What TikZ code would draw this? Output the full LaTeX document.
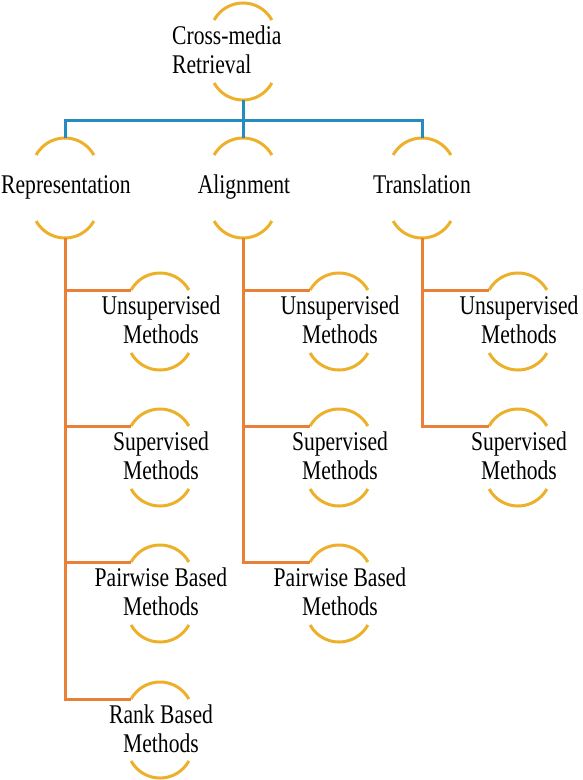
\documentclass[tikz,border=0pt]{standalone}
\usepackage{fontspec}
\setmainfont{Liberation Serif}
\definecolor{arcgold}{RGB}{236,176,42}
\definecolor{lineorange}{RGB}{232,128,55}
\definecolor{lineblue}{RGB}{38,140,192}
\newcommand\arcpair[4]{%
  \path (#2,-#3) ++(0,-33) ++(151:33) coordinate (#1-l);
  \coordinate (#1-t) at (#2,-#3);
  \coordinate (#1-b) at (#2,-#4);
  \draw[arcline] (#2,-#3) ++(0,-33) ++(151:33) arc[start angle=151,end angle=29,radius=33];
  \draw[arcline] (#2,-#4) ++(0,33) ++(209:33) arc[start angle=209,end angle=331,radius=33];
}
\begin{document}
\begin{tikzpicture}[x=1pt,y=1pt,
  arcline/.style={draw=arcgold,line width=3pt},
  blueline/.style={draw=lineblue,line width=3pt},
  orangeline/.style={draw=lineorange,line width=3pt},
  lbl/.style={inner sep=0pt,align=center,xscale=0.8,transform shape,font={\fontsize{27}{29}\selectfont}}]
\useasboundingbox (0,0) rectangle (582,-780);
% arcs
\arcpair{root}{243}{3}{100}
\arcpair{rep}{65}{138}{238}
\arcpair{ali}{243}{138}{238}
\arcpair{tra}{422}{138}{238}
\arcpair{r1}{160}{273}{370}
\arcpair{r2}{160}{409}{506}
\arcpair{r3}{160}{545}{642}
\arcpair{r4}{160}{682}{778}
\arcpair{a1}{339}{273}{370}
\arcpair{a2}{339}{409}{506}
\arcpair{a3}{339}{545}{642}
\arcpair{t1}{518}{273}{370}
\arcpair{t2}{518}{409}{506}
% texts
\node[lbl,anchor=west,align=left] (root) at (172,-53.2) {\strut Cross-media\\\strut Retrieval};
\node[lbl,anchor=base] (rep) at (66,-193) {Representation};
\node[lbl,anchor=base] (ali) at (244,-193) {Alignment};
\node[lbl,anchor=base] (tra) at (422,-193) {Translation};
\node[lbl] (r1) at (161,-323) {\strut Unsupervised\\\strut Methods};
\node[lbl] (r2) at (161,-459) {\strut Supervised\\\strut Methods};
\node[lbl] (r3) at (161,-595) {\strut Pairwise Based\\\strut Methods};
\node[lbl] (r4) at (161,-732) {\strut Rank Based\\\strut Methods};
\node[lbl] (a1) at (340,-323) {\strut Unsupervised\\\strut Methods};
\node[lbl] (a2) at (340,-459) {\strut Supervised\\\strut Methods};
\node[lbl] (a3) at (340,-595) {\strut Pairwise Based\\\strut Methods};
\node[lbl] (t1) at (519,-323) {\strut Unsupervised\\\strut Methods};
\node[lbl] (t2) at (519,-459) {\strut Supervised\\\strut Methods};
% connectors
\coordinate (bus) at (243,-120);
\draw[blueline] (root-b) -- (bus);
\draw[blueline] (bus) -| (rep-t);
\draw[blueline] (bus) -| (tra-t);
\draw[blueline] (bus) -- (ali-t);
\foreach \c in {r1,r2,r3,r4} \draw[orangeline] (rep-b) |- (\c-l);
\foreach \c in {a1,a2,a3} \draw[orangeline] (ali-b) |- (\c-l);
\foreach \c in {t1,t2} \draw[orangeline] (tra-b) |- (\c-l);
\end{tikzpicture}
\end{document}
